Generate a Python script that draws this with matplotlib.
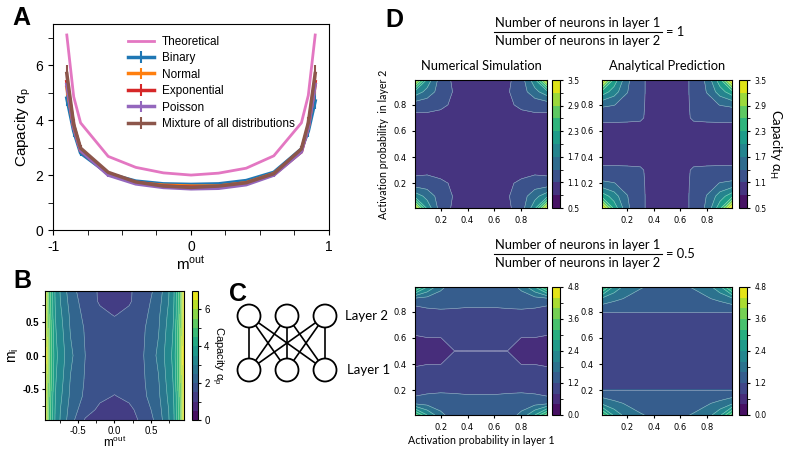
import numpy as np
import matplotlib.pyplot as plt
from matplotlib.ticker import MultipleLocator, FixedLocator, FormatStrFormatter
from matplotlib.patches import Circle

plt.rcParams['font.family'] = ['Liberation Sans', 'DejaVu Sans']
plt.rcParams['axes.unicode_minus'] = False
plt.rcParams['mathtext.default'] = 'regular'

W, H = 785, 449

# ---- panel A: capacity vs m_out ----
m_out = [-0.9, -0.85, -0.8, -0.6, -0.4, -0.2, 0.0, 0.2, 0.4, 0.6, 0.8, 0.85, 0.9]
theory = [7.1, 4.85, 3.9, 2.68, 2.28, 2.08, 2.0, 2.07, 2.25, 2.7, 3.9, 4.9, 7.1]
binary = [4.8, 3.6, 2.8, 2.05, 1.78, 1.68, 1.66, 1.68, 1.8, 2.1, 2.95, 3.6, 4.7]
normal = [5.2, 3.75, 2.9, 2.05, 1.72, 1.63, 1.6, 1.6, 1.72, 2.05, 2.9, 3.75, 5.3]
exponential = [5.4, 3.8, 2.9, 2.03, 1.72, 1.6, 1.56, 1.56, 1.7, 2.02, 2.85, 3.8, 5.4]
poisson = [5.3, 3.75, 2.9, 2.0, 1.68, 1.55, 1.5, 1.52, 1.65, 2.0, 2.85, 3.75, 5.3]
mixture = [5.7, 3.85, 2.98, 2.1, 1.75, 1.6, 1.55, 1.6, 1.72, 2.05, 2.95, 3.9, 5.7]
err = [0.3, 0.2, 0.1, 0.06, 0.05, 0.04, 0.04, 0.04, 0.05, 0.06, 0.1, 0.2, 0.3]
names = ['Binary', 'Normal', 'Exponential', 'Poisson', 'Mixture of all distributions']
series = [binary, normal, exponential, poisson, mixture]
colors = ['#1f77b4', '#ff7f0e', '#d62728', '#9467bd', '#8c564b']

# ---- panel B: capacity over (m_out, m_in) ----
b_mout = [-0.95, -0.9, -0.85, -0.8, -0.6, -0.4, -0.2, 0.0, 0.2, 0.4, 0.6, 0.8, 0.85, 0.9, 0.95]
b_min = [-0.95, -0.8, -0.6, -0.4, 0.0, 0.4, 0.6, 0.8, 0.95]
b_cap = [
    [6.6, 5.0, 4.0, 3.3, 2.2, 1.45, 1.3, 1.3, 1.35, 1.6, 2.2, 3.3, 4.0, 5.0, 6.6],
    [6.7, 5.0, 4.1, 3.3, 2.3, 1.7, 1.4, 1.35, 1.4, 1.7, 2.3, 3.3, 4.1, 5.0, 6.7],
    [6.8, 5.1, 4.1, 3.4, 2.4, 1.9, 1.6, 1.48, 1.6, 1.9, 2.4, 3.4, 4.1, 5.1, 6.8],
    [6.9, 5.2, 4.2, 3.5, 2.45, 1.95, 1.7, 1.65, 1.7, 1.95, 2.45, 3.5, 4.2, 5.2, 6.9],
    [7.0, 5.3, 4.3, 3.6, 2.6, 2.0, 1.75, 1.7, 1.75, 2.0, 2.6, 3.6, 4.3, 5.3, 7.0],
    [6.9, 5.2, 4.2, 3.5, 2.45, 1.95, 1.7, 1.65, 1.7, 1.95, 2.45, 3.5, 4.2, 5.2, 6.9],
    [6.8, 5.1, 4.1, 3.4, 2.4, 1.85, 1.6, 1.48, 1.6, 1.85, 2.4, 3.4, 4.1, 5.1, 6.8],
    [6.7, 5.0, 4.1, 3.3, 2.3, 1.75, 1.45, 1.3, 1.45, 1.75, 2.3, 3.3, 4.1, 5.0, 6.7],
    [6.6, 5.0, 4.0, 3.3, 2.2, 1.7, 1.45, 1.35, 1.45, 1.7, 2.2, 3.3, 4.0, 5.0, 6.6],
]

# ---- panel D: capacity over activation probabilities ----
prob = [0.01, 0.1, 0.2, 0.3, 0.4, 0.5, 0.6, 0.7, 0.8, 0.9, 0.99]
sim_r1 = [
    [3.3, 1.9, 1.25, 1.05, 0.97, 0.96, 0.97, 1.05, 1.25, 1.9, 3.3],
    [1.9, 1.6, 1.25, 1.08, 0.96, 0.95, 0.96, 1.08, 1.25, 1.6, 1.9],
    [1.2, 1.22, 1.15, 1.06, 0.95, 0.95, 0.95, 1.06, 1.15, 1.22, 1.2],
    [1.02, 1.03, 1.0, 0.97, 0.95, 0.95, 0.95, 0.97, 1.0, 1.03, 1.02],
    [0.97, 0.96, 0.95, 0.95, 0.95, 0.95, 0.95, 0.95, 0.95, 0.96, 0.97],
    [0.97, 0.96, 0.95, 0.95, 0.95, 0.95, 0.95, 0.95, 0.95, 0.96, 0.97],
    [0.97, 0.96, 0.95, 0.95, 0.95, 0.95, 0.95, 0.95, 0.95, 0.96, 0.97],
    [1.02, 1.03, 1.0, 0.97, 0.95, 0.95, 0.95, 0.97, 1.0, 1.03, 1.02],
    [1.22, 1.2, 1.16, 1.05, 0.95, 0.95, 0.95, 1.05, 1.16, 1.2, 1.22],
    [1.9, 1.6, 1.25, 1.08, 0.96, 0.95, 0.96, 1.08, 1.25, 1.6, 1.9],
    [3.3, 1.9, 1.25, 1.05, 0.97, 0.96, 0.97, 1.05, 1.25, 1.9, 3.3],
]
ana_r1 = [
    [3.45, 2.2, 1.45, 1.18, 0.95, 0.95, 0.95, 1.18, 1.45, 2.2, 3.45],
    [2.2, 1.85, 1.41, 1.18, 0.95, 0.95, 0.95, 1.18, 1.41, 1.85, 2.2],
    [1.45, 1.41, 1.3, 1.17, 0.95, 0.95, 0.95, 1.17, 1.3, 1.41, 1.45],
    [1.18, 1.18, 1.17, 1.15, 0.95, 0.95, 0.95, 1.15, 1.17, 1.18, 1.18],
    [0.95, 0.95, 0.95, 0.95, 0.95, 0.95, 0.95, 0.95, 0.95, 0.95, 0.95],
    [0.95, 0.95, 0.95, 0.95, 0.95, 0.95, 0.95, 0.95, 0.95, 0.95, 0.95],
    [0.95, 0.95, 0.95, 0.95, 0.95, 0.95, 0.95, 0.95, 0.95, 0.95, 0.95],
    [1.18, 1.18, 1.17, 1.15, 0.95, 0.95, 0.95, 1.15, 1.17, 1.18, 1.18],
    [1.45, 1.41, 1.3, 1.17, 0.95, 0.95, 0.95, 1.17, 1.3, 1.41, 1.45],
    [2.2, 1.85, 1.41, 1.18, 0.95, 0.95, 0.95, 1.18, 1.41, 1.85, 2.2],
    [3.45, 2.2, 1.45, 1.18, 0.95, 0.95, 0.95, 1.18, 1.45, 2.2, 3.45],
]
sim_r05 = [
    [3.4, 2.4, 1.7, 1.4, 1.35, 1.3, 1.35, 1.4, 1.7, 2.4, 3.4],
    [1.5, 1.45, 1.4, 1.35, 1.3, 1.3, 1.3, 1.35, 1.4, 1.45, 1.5],
    [0.95, 1.1, 1.15, 1.15, 1.15, 1.15, 1.15, 1.15, 1.15, 1.1, 0.95],
    [0.82, 0.95, 1.0, 1.0, 1.0, 1.0, 1.0, 1.0, 1.0, 0.95, 0.82],
    [0.795, 0.795, 0.795, 0.9, 0.95, 0.95, 0.95, 0.9, 0.795, 0.795, 0.795],
    [0.7, 0.7, 0.7, 0.795, 0.795, 0.795, 0.795, 0.795, 0.7, 0.7, 0.7],
    [0.795, 0.795, 0.795, 0.9, 0.95, 0.95, 0.95, 0.9, 0.795, 0.795, 0.795],
    [0.82, 0.95, 1.0, 1.0, 1.0, 1.0, 1.0, 1.0, 1.0, 0.95, 0.82],
    [0.95, 1.1, 1.15, 1.15, 1.15, 1.15, 1.15, 1.15, 1.15, 1.1, 0.95],
    [1.5, 1.45, 1.4, 1.35, 1.3, 1.3, 1.3, 1.35, 1.4, 1.45, 1.5],
    [3.4, 2.4, 1.7, 1.4, 1.35, 1.3, 1.35, 1.4, 1.7, 2.4, 3.4],
]
ana_r05 = [
    [3.4, 2.3, 1.8, 1.62, 1.55, 1.55, 1.55, 1.62, 1.8, 2.3, 3.4],
    [1.9, 1.7, 1.55, 1.5, 1.5, 1.5, 1.5, 1.5, 1.55, 1.7, 1.9],
    [1.21, 1.21, 1.21, 1.21, 1.21, 1.21, 1.21, 1.21, 1.21, 1.21, 1.21],
    [1.0, 1.0, 1.0, 1.0, 1.0, 1.0, 1.0, 1.0, 1.0, 1.0, 1.0],
    [1.0, 1.0, 1.0, 1.0, 1.0, 1.0, 1.0, 1.0, 1.0, 1.0, 1.0],
    [0.98, 0.98, 0.98, 0.98, 0.98, 0.98, 0.98, 0.98, 0.98, 0.98, 0.98],
    [1.0, 1.0, 1.0, 1.0, 1.0, 1.0, 1.0, 1.0, 1.0, 1.0, 1.0],
    [1.0, 1.0, 1.0, 1.0, 1.0, 1.0, 1.0, 1.0, 1.0, 1.0, 1.0],
    [1.21, 1.21, 1.21, 1.21, 1.21, 1.21, 1.21, 1.21, 1.21, 1.21, 1.21],
    [1.9, 1.7, 1.55, 1.5, 1.5, 1.5, 1.5, 1.5, 1.55, 1.7, 1.9],
    [3.4, 2.3, 1.8, 1.62, 1.55, 1.55, 1.55, 1.62, 1.8, 2.3, 3.4],
]


def box(l, t, r, b):
    # pixel box (left, top, right, bottom) -> figure fraction rect
    return [l / W, 1 - b / H, (r - l) / W, (b - t) / H]


fig = plt.figure(figsize=(W / 100, H / 100), dpi=100)

# overlay for letters, diagram, fraction bars
ov = fig.add_axes([0, 0, 1, 1])
ov.set_xlim(0, W)
ov.set_ylim(H, 0)
ov.axis('off')

for x, y, s in [(12, 25, 'A'), (13, 288, 'B'), (229, 301, 'C'), (385, 27, 'D')]:
    ov.text(x, y, s, fontsize=18, fontweight='bold', va='baseline')

# ---- A ----
ax = fig.add_axes(box(53, 24, 329, 230))
ax.plot(m_out, theory, color='#e377c2', lw=2, label='Theoretical')
for name, vals, col in zip(names, series, colors):
    ax.errorbar(m_out, vals, yerr=err, color=col, lw=2.5, elinewidth=1.5, label=name)
ax.set_xlim(-1, 1)
ax.set_ylim(0, 7.5)
ax.xaxis.set_major_locator(MultipleLocator(1))
ax.xaxis.set_minor_locator(MultipleLocator(0.25))
ax.yaxis.set_major_locator(MultipleLocator(2))
ax.yaxis.set_minor_locator(MultipleLocator(1))
ax.tick_params(which='both', labelsize=10, length=3.5)
ax.set_ylabel('Capacity α$_p$', fontsize=11, labelpad=2)
ax.set_xlabel('m$^{out}$', fontsize=11, labelpad=1)
ax.legend(loc='upper left', bbox_to_anchor=(0.235, 0.995), frameon=False, fontsize=8.5,
          handlelength=2.2, handletextpad=0.6, labelspacing=0.38)

# ---- B ----
axb = fig.add_axes(box(45, 291, 184, 420))
csb = axb.contourf(b_mout, b_min, b_cap, levels=np.linspace(0, 7, 15), cmap='viridis')
axb.contour(b_mout, b_min, b_cap, levels=csb.levels, colors='w', linewidths=0.4, alpha=0.5)
for a in (axb.xaxis, axb.yaxis):
    a.set_major_locator(MultipleLocator(0.5))
    a.set_minor_locator(MultipleLocator(0.25))
    a.set_major_formatter(FormatStrFormatter('%.1f'))
axb.tick_params(which='both', labelsize=7, length=2.5, pad=1.5)
for lbl in axb.get_yticklabels():
    lbl.set_fontweight('bold')
axb.set_xlabel('m$^{out}$', fontsize=8.5, labelpad=-0.5)
axb.set_ylabel('m$_i$', fontsize=10, labelpad=1)
caxb = fig.add_axes(box(192, 291, 198, 420))
cbb = fig.colorbar(csb, cax=caxb)
cbb.set_ticks([0, 2, 4, 6])
cbb.ax.yaxis.set_minor_locator(FixedLocator([1, 3, 5]))
cbb.ax.tick_params(which='both', labelsize=7, length=2.5, pad=2)
cbb.set_label('Capacity α$_p$', rotation=270, fontsize=8, labelpad=11)

# ---- C: network ----
layer_x = [249, 287, 325]
top_y, bot_y, rad = 316, 370, 11.5
for xt in layer_x:
    for xb in layer_x:
        ov.plot([xt, xb], [top_y, bot_y], color='k', lw=1.2, zorder=1)
for xc in layer_x:
    for yc in (top_y, bot_y):
        ov.add_patch(Circle((xc, yc), rad, facecolor='white', edgecolor='k', lw=1.3, zorder=2))
ov.text(345, top_y, 'Layer 2', fontsize=9.5, va='center', family='Lato')
ov.text(347, bot_y, 'Layer 1', fontsize=9.5, va='center', family='Lato')

# ---- D ----
def dpanel(rect, crect, z, levels, ticks, minor):
    a = fig.add_axes(box(*rect))
    cs = a.contourf(prob, prob, z, levels=levels, cmap='viridis')
    a.contour(prob, prob, z, levels=levels, colors='w', linewidths=0.4, alpha=0.55)
    a.set_xticks([0.2, 0.4, 0.6, 0.8])
    a.set_yticks([0.2, 0.4, 0.6, 0.8])
    a.tick_params(labelsize=6, length=2.5)
    plt.setp(a.get_xticklabels() + a.get_yticklabels(), family='DejaVu Sans')
    c = fig.add_axes(box(*crect))
    cb = fig.colorbar(cs, cax=c)
    cb.set_ticks(ticks)
    cb.ax.yaxis.set_major_formatter(FormatStrFormatter('%.1f'))
    cb.ax.yaxis.set_minor_locator(FixedLocator(minor))
    cb.ax.tick_params(which='both', labelsize=5.5, length=2)
    plt.setp(cb.ax.get_yticklabels(), family='DejaVu Sans')
    return a, cb


lev1 = np.linspace(0.5, 3.5, 11)
lev2 = np.linspace(0, 4.8, 13)
t1 = [0.5, 1.1, 1.7, 2.3, 2.9, 3.5]
m1 = [0.8, 1.4, 2.0, 2.6, 3.2]
t2 = [0.0, 1.2, 2.4, 3.6, 4.8]
m2 = [0.6, 1.8, 3.0, 4.2]

axtl, _ = dpanel((415, 80, 547, 208), (552, 80, 560, 208), sim_r1, lev1, t1, m1)
axtr, cbtr = dpanel((602, 80, 732, 208), (739, 80, 747, 208), ana_r1, lev1, t1, m1)
axbl, _ = dpanel((415, 287, 547, 415), (552, 287, 560, 415), sim_r05, lev2, t2, m2)
axbr, _ = dpanel((602, 287, 732, 415), (739, 287, 747, 415), ana_r05, lev2, t2, m2)

axtl.set_title('Numerical Simulation', fontsize=9.3, family='Lato', pad=7)
axtr.set_title('Analytical Prediction', fontsize=9.3, family='Lato', pad=7)
axtl.set_ylabel('Activation probability  in layer 2', fontsize=7.7, family='Lato', labelpad=3)
axbl.set_xlabel('Activation probability in layer 1', fontsize=7.7, family='Lato', labelpad=2)
cbtr.set_label('Capacity α$_H$', rotation=270, fontsize=9.5, family='Lato', labelpad=12)

# fraction headers
for yc, rhs in [(32, '= 1'), (254, '= 0.5')]:
    ov.text(578, yc - 9, 'Number of neurons in layer 1', fontsize=9.3, family='Lato',
            ha='center', va='center')
    ov.text(578, yc + 9, 'Number of neurons in layer 2', fontsize=9.3, family='Lato',
            ha='center', va='center')
    ov.plot([494, 662], [yc, yc], color='k', lw=0.8)
    ov.text(666, yc, rhs, fontsize=9.3, family='Lato', va='center')

fig.savefig('out.png', dpi=100)
